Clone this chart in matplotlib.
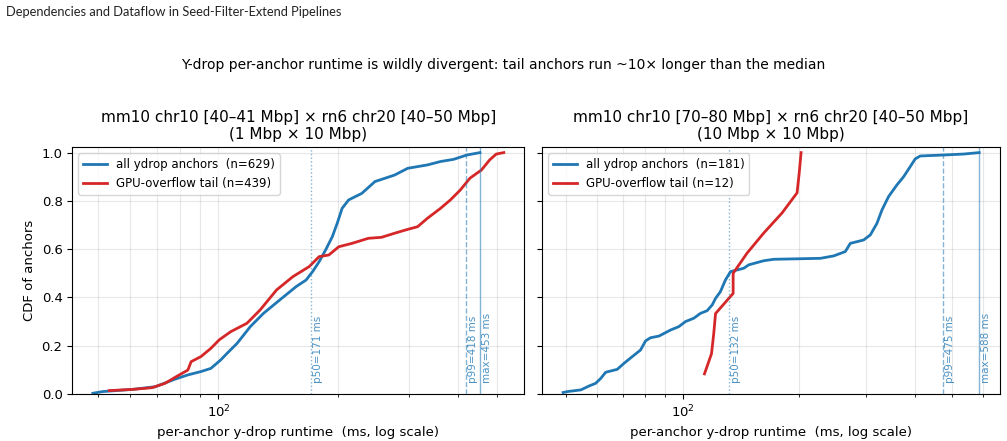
#!/usr/bin/env python3
"""Y-drop per-anchor runtime CDFs for two mm10 x rn6 windows."""

import matplotlib

matplotlib.use("Agg")
import matplotlib.pyplot as plt
import numpy as np

# left window: mm10 chr10 [40-41 Mbp] x rn6 chr20 [40-50 Mbp]
left_all_ms = [48.4, 51.2, 60.8, 69.4, 77.7, 83.8, 90.4, 95.7, 101.3, 105.2,
               111.4, 120.2, 129.7, 142.6, 156.7, 165.9, 172.3, 178.9, 185.8,
               193.1, 198.6, 204.3, 212.2, 228.9, 247.0, 276.7, 298.5, 334.5,
               360.7, 389.0, 420.0, 453.0]
left_all_cdf = [0.003, 0.010, 0.019, 0.030, 0.061, 0.079, 0.093, 0.106, 0.141,
                0.169, 0.210, 0.279, 0.334, 0.390, 0.445, 0.472, 0.507, 0.548,
                0.597, 0.652, 0.707, 0.769, 0.804, 0.831, 0.880, 0.907, 0.935,
                0.949, 0.963, 0.972, 0.990, 1.000]
left_tail_ms = [53.2, 60.8, 68.1, 73.4, 78.4, 83.8, 85.4, 90.4, 95.7, 100.4,
                107.3, 117.9, 127.2, 139.9, 153.7, 169.0, 178.9, 189.3, 200.4,
                216.3, 237.8, 256.5, 276.7, 298.5, 316.0, 334.5, 360.7, 382.0,
                404.4, 427.6, 457.0, 479.4, 497.8, 520.0]
left_tail_cdf = [0.014, 0.019, 0.026, 0.044, 0.072, 0.099, 0.134, 0.155, 0.189,
                 0.224, 0.258, 0.293, 0.348, 0.431, 0.486, 0.528, 0.569, 0.576,
                 0.610, 0.624, 0.645, 0.649, 0.666, 0.682, 0.693, 0.728, 0.769,
                 0.804, 0.845, 0.894, 0.928, 0.970, 0.994, 1.000]
left_marks = [("p50", 171, ":"), ("p99", 418, "--"), ("max", 453, "-")]

# right window: mm10 chr10 [70-80 Mbp] x rn6 chr20 [40-50 Mbp]
right_all_ms = [49.0, 50.3, 54.5, 57.2, 59.5, 61.4, 63.2, 67.7, 70.5, 74.1,
                77.8, 80.2, 82.6, 86.9, 93.1, 97.8, 101.8, 107.0, 111.3, 115.8,
                119.4, 121.8, 125.4, 129.2, 133.2, 144.2, 148.5, 162.4, 172.4,
                227.8, 246.6, 264.4, 272.4, 295.0, 307.0, 319.4, 329.0, 342.4,
                359.8, 374.5, 389.6, 401.4, 413.6, 475.0, 535.6, 588.0]
right_all_cdf = [0.006, 0.010, 0.017, 0.033, 0.044, 0.065, 0.090, 0.102, 0.127,
                 0.155, 0.182, 0.220, 0.233, 0.240, 0.265, 0.279, 0.300, 0.314,
                 0.334, 0.345, 0.369, 0.396, 0.424, 0.472, 0.507, 0.521, 0.535,
                 0.552, 0.558, 0.562, 0.572, 0.590, 0.624, 0.638, 0.659, 0.707,
                 0.762, 0.818, 0.866, 0.900, 0.942, 0.974, 0.986, 0.990, 0.994,
                 1.000]
right_tail_ms = [114.0, 118.9, 120.5, 121.8, 135.3, 135.3, 147.0, 162.4, 181.2,
                 198.2, 200.8, 203.0]
right_tail_cdf = [(i + 1) / 12 for i in range(12)]
right_marks = [("p50", 132, ":"), ("p99", 475, "--"), ("max", 588, "-")]

panels = [
    ("mm10 chr10 [40\u201341 Mbp] \u00d7 rn6 chr20 [40\u201350 Mbp]\n(1 Mbp \u00d7 10 Mbp)",
     left_all_ms, left_all_cdf, 629, left_tail_ms, left_tail_cdf, 439, left_marks),
    ("mm10 chr10 [70\u201380 Mbp] \u00d7 rn6 chr20 [40\u201350 Mbp]\n(10 Mbp \u00d7 10 Mbp)",
     right_all_ms, right_all_cdf, 181, right_tail_ms, right_tail_cdf, 12, right_marks),
]

BLUE = "#1f77b4"
RED = "#d62728"

figure = plt.figure(figsize=(10.07, 4.41), dpi=100)
figure.text(0.006, 0.972, "Dependencies and Dataflow in Seed-Filter-Extend Pipelines",
            fontsize=9.3, family="Lato", color="#222222", va="center")
figure.text(0.5, 0.852,
            "Y-drop per-anchor runtime is wildly divergent: tail anchors run ~10\u00d7 longer than the median",
            fontsize=10, ha="center", va="center")

ax_left = figure.add_axes([0.0718, 0.1066, 0.4489, 0.5594])
ax_right = figure.add_axes([0.5385, 0.1066, 0.4545, 0.5594], sharey=ax_left)

for axis, (title, all_ms, all_cdf, n_all, tail_ms, tail_cdf, n_tail, marks) in zip(
        [ax_left, ax_right], panels):
    axis.plot(all_ms, all_cdf, color=BLUE, linewidth=2,
              label=f"all ydrop anchors  (n={n_all})")
    axis.plot(tail_ms, tail_cdf, color=RED, linewidth=2,
              label=f"GPU-overflow tail (n={n_tail})")
    axis.set_xscale("log")
    for name, value, style in marks:
        axis.axvline(value, color=BLUE, linestyle=style, linewidth=1, alpha=0.55)
        axis.text(value * 1.012, 0.045, f"{name}={value} ms", rotation=90,
                  ha="left", va="bottom", fontsize=7.5, color=BLUE, alpha=0.8)
    axis.set_ylim(0, 1.022)
    axis.set_title(title, fontsize=11)
    axis.set_xlabel("per-anchor y-drop runtime  (ms, log scale)", fontsize=9.5)
    axis.grid(which="major", alpha=0.3)
    axis.grid(which="minor", axis="x", alpha=0.3)
    axis.legend(loc="upper left", fontsize=8.5)
    axis.tick_params(labelsize=9.5)

ax_left.set_ylabel("CDF of anchors", fontsize=9.5)
ax_right.tick_params(labelleft=False)

figure.savefig("out.png", dpi=100)
